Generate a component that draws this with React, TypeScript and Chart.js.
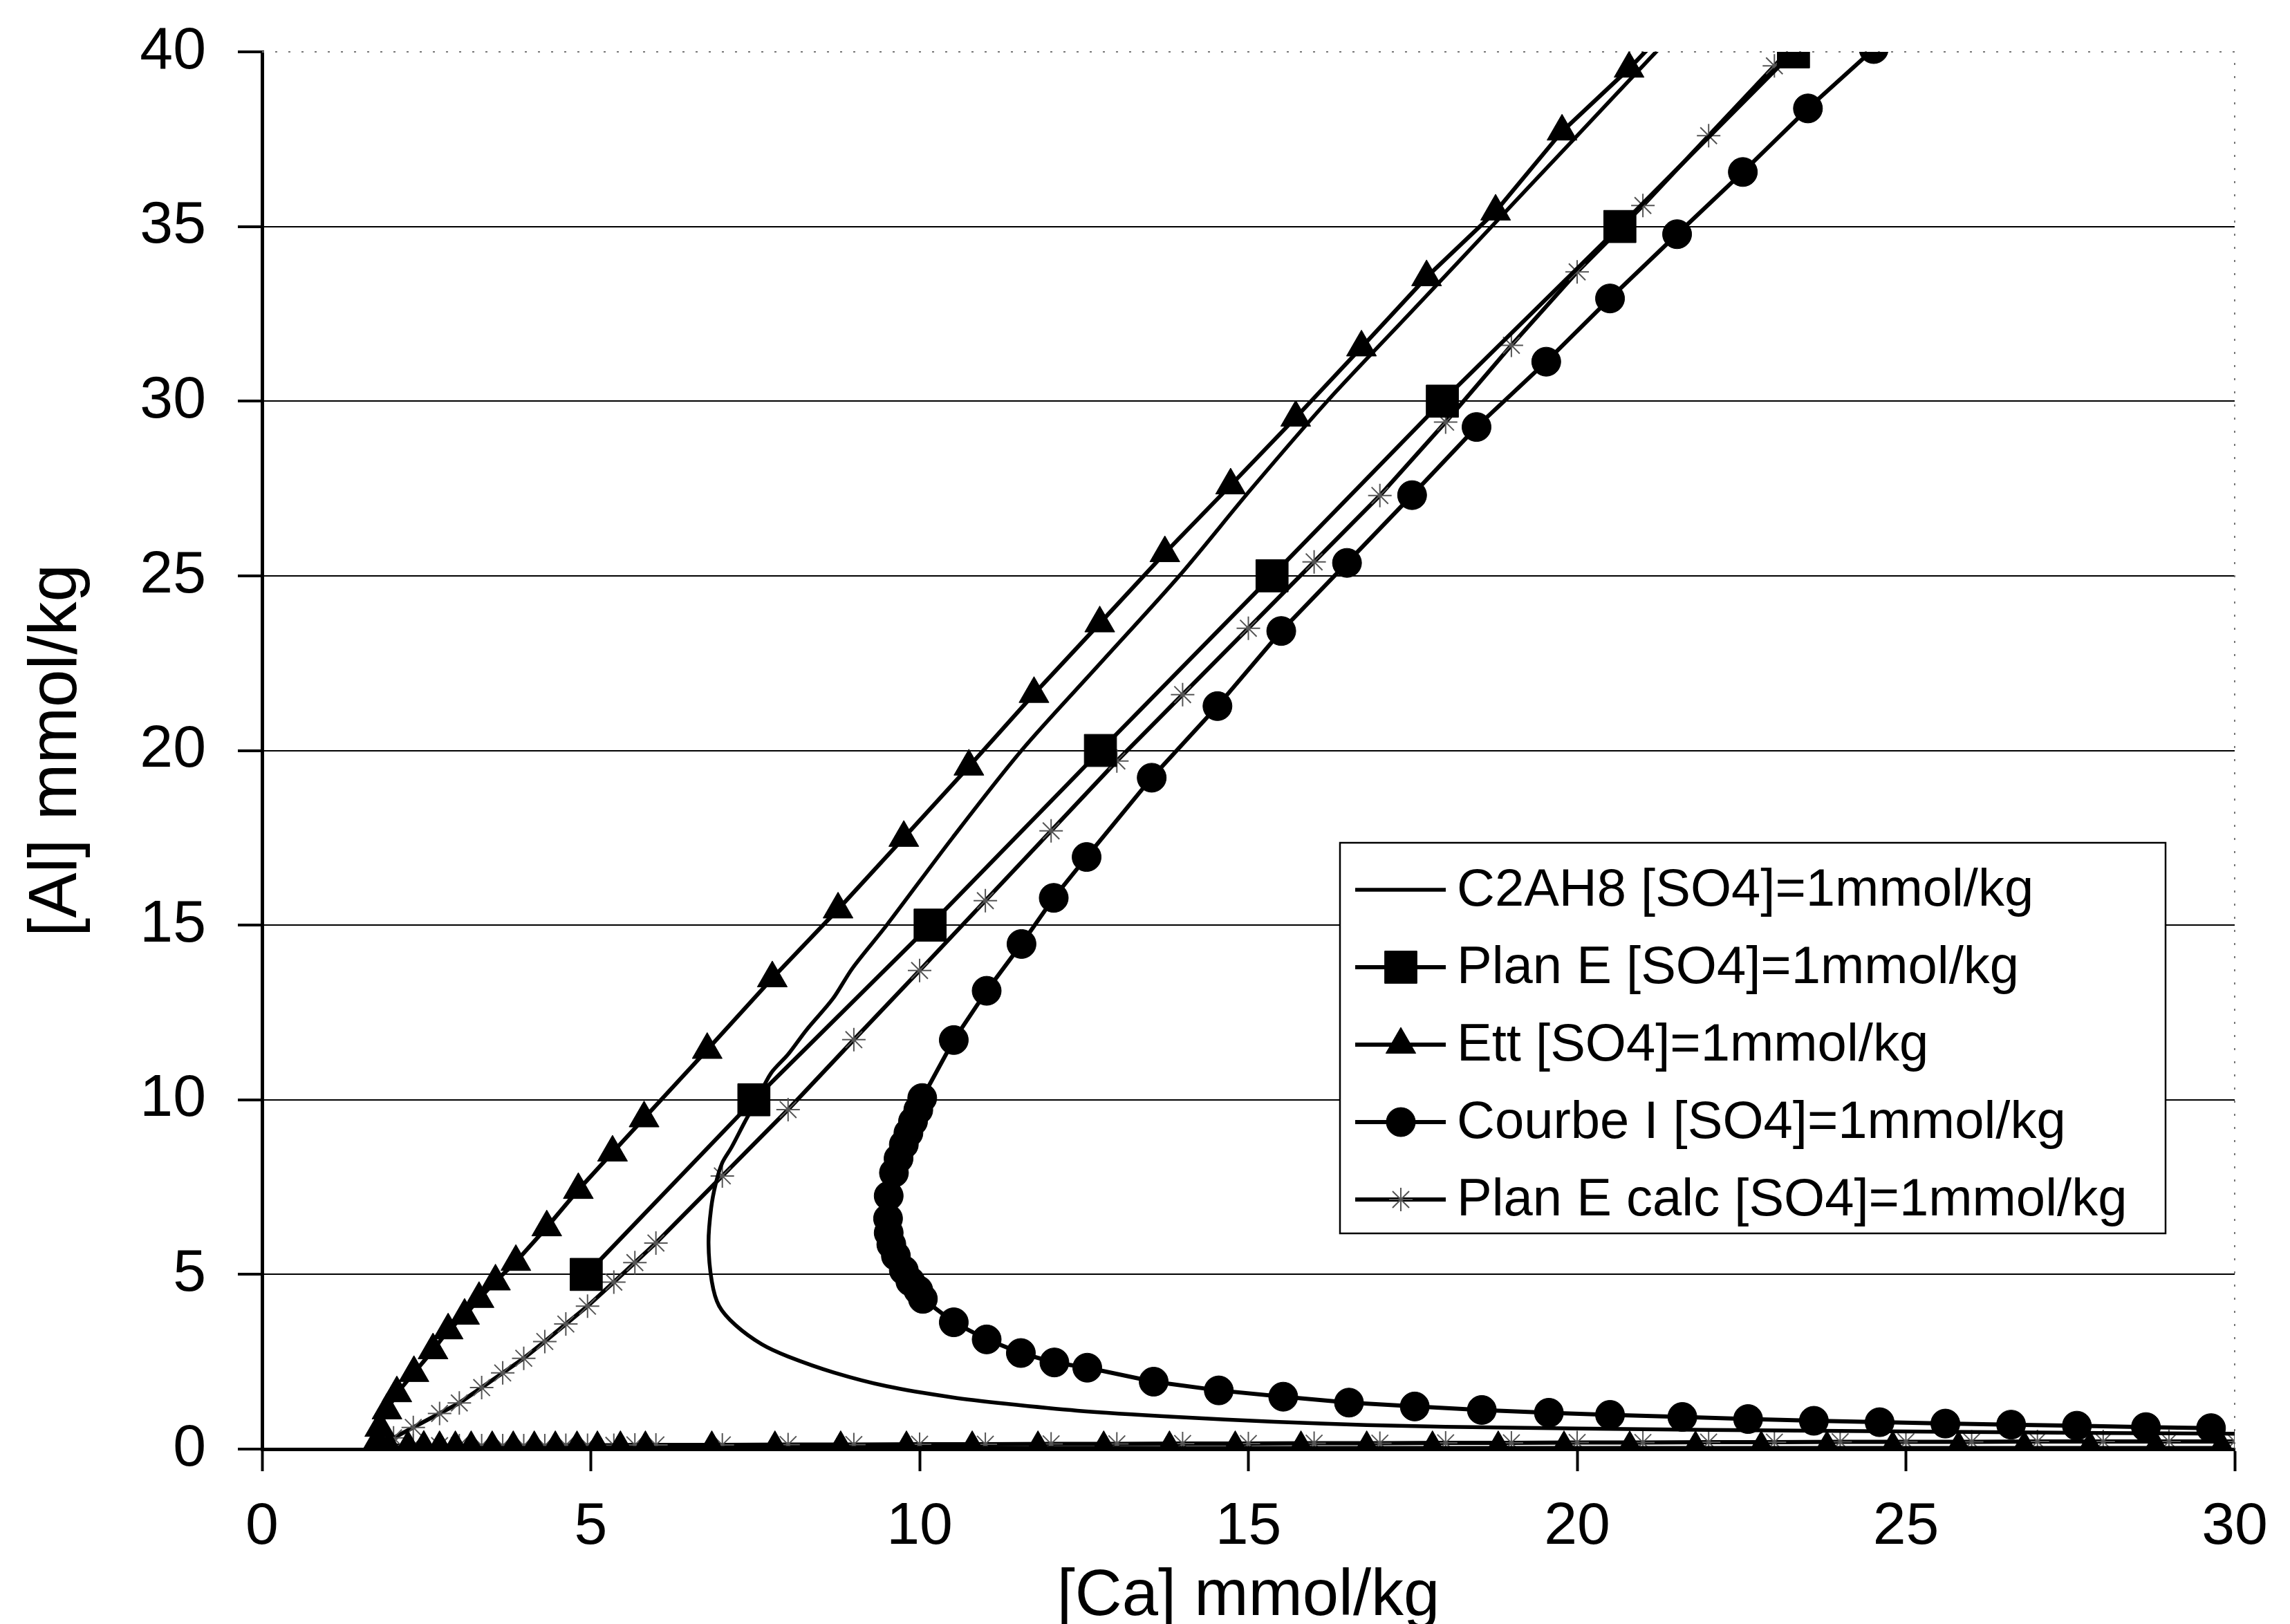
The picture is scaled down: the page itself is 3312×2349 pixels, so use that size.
import React, { useEffect, useRef } from "react";
import { Chart, registerables } from "chart.js";

Chart.register(...registerables);

const FONT = "'Liberation Sans', Arial, Helvetica, sans-serif";

const X_MIN = 0;
const X_MAX = 30;
const X_STEP = 5;
const Y_MIN = 0;
const Y_MAX = 40;
const Y_STEP = 5;

const X_TITLE = "[Ca] mmol/kg";
const Y_TITLE = "[Al] mmol/kg";

const seriesNames = [
  "C2AH8 [SO4]=1mmol/kg",
  "Plan E [SO4]=1mmol/kg",
  "Ett [SO4]=1mmol/kg",
  "Courbe I [SO4]=1mmol/kg",
  "Plan E calc [SO4]=1mmol/kg",
];

// C2AH8: from the right-hand end, round the nose, up to the top
const c2ah8X = [30, 28, 26, 24, 22, 20, 18, 16.8, 15.4, 13.9, 12.4, 11.3, 10.5, 9.5, 8.7, 8.0, 7.6, 7.2, 6.95, 6.84, 6.79, 6.83, 6.9, 7.0, 7.14, 7.34, 7.5, 7.74, 8.0, 8.28, 8.68, 8.98, 9.5, 10.5, 11.55, 12.75, 13.95, 15.05, 16.2, 17.45, 18.7, 19.95, 21.2, 21.7];
const c2ah8Y = [0.44, 0.46, 0.49, 0.52, 0.55, 0.59, 0.64, 0.69, 0.78, 0.92, 1.1, 1.3, 1.48, 1.8, 2.19, 2.65, 3.0, 3.55, 4.1, 4.8, 5.9, 6.9, 7.6, 8.2, 8.64, 9.36, 9.9, 10.76, 11.3, 12.0, 12.89, 13.77, 15, 17.5, 20, 22.5, 25, 27.5, 30, 32.5, 35, 37.5, 40, 41];

// Plan E
const planEX = [4.93, 7.48, 10.16, 12.75, 15.36, 17.95, 20.65, 23.29, 25.9];
const planEY = [5, 10, 15, 20, 25, 30, 35, 40, 45];

// Ett: lower branch (along the Ca axis) and upper branch
const ettLowX = [1.81, 1.93, 2.22, 2.46, 2.7, 2.94, 3.18, 3.5, 3.82, 4.14, 4.46, 4.79, 5.1, 5.45, 5.83, 6.84, 7.8, 8.8, 9.8, 10.8, 11.8, 12.8, 13.8, 14.8, 15.8, 16.8, 17.8, 18.8, 19.8, 20.8, 21.8, 22.8, 23.8, 24.8, 25.8, 26.8, 27.8, 28.8, 29.8];
const ettLowY = [0.05, 0.04, 0.04, 0.04, 0.03, 0.03, 0.03, 0.03, 0.03, 0.03, 0.03, 0.03, 0.03, 0.03, 0.03, 0.03, 0.03, 0.03, 0.03, 0.03, 0.03, 0.03, 0.03, 0.03, 0.03, 0.03, 0.03, 0.03, 0.03, 0.03, 0.03, 0.03, 0.03, 0.03, 0.03, 0.03, 0.03, 0.03, 0.03];
const ettUpX = [1.75, 1.79, 1.9, 2.05, 2.31, 2.6, 2.83, 3.08, 3.3, 3.55, 3.86, 4.33, 4.81, 5.33, 5.81, 6.77, 7.76, 8.76, 9.76, 10.75, 11.74, 12.74, 13.73, 14.73, 15.72, 16.72, 17.71, 18.76, 19.77, 20.79, 21.8];
const ettUpY = [0.2, 0.61, 1.11, 1.6, 2.18, 2.83, 3.4, 3.82, 4.3, 4.8, 5.36, 6.35, 7.42, 8.49, 9.47, 11.43, 13.48, 15.45, 17.5, 19.54, 21.62, 23.64, 25.65, 27.59, 29.53, 31.54, 33.55, 35.43, 37.72, 39.52, 41.5];

// Courbe I: from the right-hand end, round the nose, up to the top
const courbeX = [29.64, 28.65, 27.6, 26.6, 25.6, 24.6, 23.6, 22.6, 21.6, 20.5, 19.57, 18.55, 17.53, 16.53, 15.53, 14.55, 13.56, 12.55, 12.05, 11.54, 11.02, 10.52, 10.05, 9.98, 9.86, 9.76, 9.64, 9.57, 9.53, 9.52, 9.53, 9.61, 9.68, 9.76, 9.83, 9.9, 9.98, 10.04, 10.52, 11.02, 11.55, 12.04, 12.54, 13.53, 14.53, 15.5, 16.5, 17.49, 18.47, 19.53, 20.5, 21.52, 22.52, 23.51, 24.51, 25.5];
const courbeY = [0.6, 0.63, 0.67, 0.7, 0.73, 0.77, 0.81, 0.86, 0.92, 0.98, 1.04, 1.12, 1.22, 1.33, 1.5, 1.68, 1.93, 2.33, 2.48, 2.75, 3.14, 3.63, 4.3, 4.55, 4.8, 5.12, 5.53, 5.86, 6.19, 6.6, 7.25, 7.91, 8.32, 8.72, 9.05, 9.38, 9.71, 10.05, 11.71, 13.12, 14.46, 15.78, 16.95, 19.22, 21.27, 23.42, 25.37, 27.31, 29.26, 31.13, 32.94, 34.78, 36.56, 38.38, 40.08, 41.9];

// Plan E calc: lower branch and upper branch
const calcLowX = [1.95, 2.3, 2.7, 3.0, 3.34, 3.66, 3.98, 4.3, 4.62, 4.95, 5.35, 5.67, 5.99, 7, 8, 9, 10, 11, 12, 13, 14, 15, 16, 17, 18, 19, 20, 21, 22, 23, 24, 25, 26, 27, 28, 29, 30];
const calcLowY = [0.1, 0.1, 0.1, 0.1, 0.1, 0.1, 0.1, 0.1, 0.11, 0.11, 0.11, 0.12, 0.12, 0.12, 0.13, 0.13, 0.14, 0.14, 0.15, 0.15, 0.16, 0.16, 0.17, 0.17, 0.18, 0.18, 0.19, 0.19, 0.2, 0.2, 0.21, 0.21, 0.21, 0.22, 0.22, 0.22, 0.22];
const calcUpX = [2.0, 2.3, 2.7, 3.0, 3.34, 3.66, 3.98, 4.3, 4.62, 4.95, 5.35, 5.67, 5.99, 7, 8, 9, 10, 11, 12, 13, 14, 15, 16, 17, 18, 19, 20, 21, 22, 23, 24];
const calcUpY = [0.32, 0.62, 1.02, 1.32, 1.76, 2.18, 2.6, 3.08, 3.58, 4.09, 4.78, 5.34, 5.9, 7.82, 9.72, 11.72, 13.7, 15.7, 17.7, 19.7, 21.6, 23.5, 25.4, 27.3, 29.4, 31.6, 33.7, 35.6, 37.6, 39.6, 41.6];

type P = { x: number; y: number };
const pts = (xs: number[], ys: number[]): P[] => xs.map((x, i) => ({ x, y: ys[i] }));

function drawMarker(ctx: CanvasRenderingContext2D, style: string, x: number, y: number, r: number) {
  ctx.beginPath();
  if (style === "rect") {
    const s = Math.SQRT1_2 * r;
    ctx.rect(x - s, y - s, 2 * s, 2 * s);
    ctx.fill();
    ctx.stroke();
  } else if (style === "triangle") {
    let a = 0;
    ctx.moveTo(x + Math.sin(a) * r, y - Math.cos(a) * r);
    a += (2 * Math.PI) / 3;
    ctx.lineTo(x + Math.sin(a) * r, y - Math.cos(a) * r);
    a += (2 * Math.PI) / 3;
    ctx.lineTo(x + Math.sin(a) * r, y - Math.cos(a) * r);
    ctx.closePath();
    ctx.fill();
    ctx.stroke();
  } else if (style === "circle") {
    ctx.arc(x, y, r, 0, Math.PI * 2);
    ctx.fill();
    ctx.stroke();
  } else if (style === "star") {
    ctx.moveTo(x, y - r);
    ctx.lineTo(x, y + r);
    ctx.moveTo(x - r, y);
    ctx.lineTo(x + r, y);
    const d = Math.SQRT1_2 * r;
    ctx.moveTo(x - d, y - d);
    ctx.lineTo(x + d, y + d);
    ctx.moveTo(x - d, y + d);
    ctx.lineTo(x + d, y - d);
    ctx.stroke();
  }
}

const framePlugin = {
  id: "dottedFrame",
  beforeDatasetsDraw(chart: any) {
    const { ctx, chartArea } = chart;
    ctx.save();
    ctx.strokeStyle = "#777";
    ctx.lineWidth = 2;
    ctx.setLineDash([3, 16]);
    ctx.beginPath();
    ctx.moveTo(chartArea.left, chartArea.top);
    ctx.lineTo(chartArea.right, chartArea.top);
    ctx.lineTo(chartArea.right, chartArea.bottom);
    ctx.stroke();
    ctx.restore();
  },
};

const legendPlugin = {
  id: "boxLegend",
  afterDraw(chart: any) {
    const { ctx } = chart;
    const bx = 1938;
    const by = 1219;
    const bw = 1194;
    const bh = 565;
    ctx.save();
    ctx.setLineDash([]);
    ctx.fillStyle = "#fff";
    ctx.fillRect(bx, by, bw, bh);
    ctx.lineWidth = 2.5;
    ctx.strokeStyle = "#000";
    ctx.strokeRect(bx, by, bw, bh);
    chart.data.datasets.forEach((ds: any, i: number) => {
      const cy = by + 68 + i * 112;
      ctx.strokeStyle = ds.borderColor;
      ctx.lineWidth = ds.borderWidth;
      ctx.beginPath();
      ctx.moveTo(1960, cy);
      ctx.lineTo(2091, cy);
      ctx.stroke();
      if (ds.pointRadius > 0) {
        ctx.fillStyle = ds.pointBackgroundColor;
        ctx.strokeStyle = ds.pointBorderColor;
        ctx.lineWidth = ds.pointBorderWidth;
        drawMarker(ctx, ds.pointStyle, 2026, cy, ds.pointRadius);
      }
      ctx.fillStyle = "#000";
      ctx.font = `76px ${FONT}`;
      ctx.textAlign = "left";
      ctx.textBaseline = "middle";
      ctx.fillText(ds.label, 2107, cy + 2);
    });
    ctx.restore();
  },
};

export default function App() {
  const ref = useRef<HTMLCanvasElement | null>(null);

  useEffect(() => {
    if (!ref.current) return;
    const line = {
      showLine: true,
      borderColor: "#000",
      borderWidth: 6,
      pointBackgroundColor: "#000",
      pointBorderColor: "#000",
      pointBorderWidth: 1,
      tension: 0,
    };
    const chart = new Chart(ref.current, {
      type: "scatter",
      data: {
        datasets: [
          {
            ...line,
            label: seriesNames[0],
            data: pts(c2ah8X, c2ah8Y),
            pointRadius: 0,
            pointStyle: "circle",
            tension: 0.3,
            borderWidth: 5.5,
          },
          {
            ...line,
            label: seriesNames[1],
            data: pts(planEX, planEY),
            pointStyle: "rect",
            pointRadius: 33,
          },
          {
            ...line,
            label: seriesNames[2],
            data: [...pts(ettLowX, ettLowY).reverse(), ...pts(ettUpX, ettUpY)],
            pointStyle: "triangle",
            pointRadius: 25,
          },
          {
            ...line,
            label: seriesNames[3],
            data: pts(courbeX, courbeY),
            pointStyle: "circle",
            pointRadius: 21,
          },
          {
            ...line,
            label: seriesNames[4],
            data: [...pts(calcLowX, calcLowY).reverse(), ...pts(calcUpX, calcUpY)],
            pointStyle: "star",
            pointRadius: 17,
            pointBorderColor: "#555",
            pointBorderWidth: 2,
          },
        ],
      },
      options: {
        animation: false,
        responsive: false,
        maintainAspectRatio: false,
        devicePixelRatio: 1,
        layout: { padding: { top: 75, right: 80, left: 0, bottom: 0 } },
        plugins: {
          legend: { display: false },
          tooltip: { enabled: false },
        },
        scales: {
          x: {
            type: "linear",
            min: X_MIN,
            max: X_MAX,
            ticks: {
              stepSize: X_STEP,
              color: "#000",
              font: { size: 86, family: FONT },
              padding: 30,
              maxRotation: 0,
            },
            grid: {
              drawOnChartArea: false,
              drawTicks: true,
              tickLength: 32,
              tickWidth: 4,
              tickColor: "#000",
            },
            border: { display: true, color: "#000", width: 5 },
            title: {
              display: true,
              text: X_TITLE,
              color: "#000",
              font: { size: 94, family: FONT },
              padding: { top: 0, bottom: -17 },
            },
            afterFit: (s: any) => {
              s.height = 253;
              s.paddingLeft = 0;
              s.paddingRight = 0;
            },
          },
          y: {
            type: "linear",
            min: Y_MIN,
            max: Y_MAX,
            ticks: {
              stepSize: Y_STEP,
              color: "#000",
              font: { size: 86, family: FONT },
              padding: 46,
            },
            grid: {
              color: (c: any) =>
                c.tick && (c.tick.value === Y_MIN || c.tick.value === Y_MAX) ? "rgba(0,0,0,0)" : "#000",
              lineWidth: 2,
              tickLength: 35,
              tickWidth: 4,
              tickColor: "#000",
            },
            border: { display: true, color: "#000", width: 5 },
            title: {
              display: true,
              text: Y_TITLE,
              color: "#000",
              font: { size: 98, family: FONT },
              padding: { top: 24, bottom: 0 },
            },
            afterFit: (s: any) => {
              s.width = 379;
              s.paddingTop = 0;
              s.paddingBottom = 0;
            },
          },
        },
      },
      plugins: [framePlugin, legendPlugin],
    } as any);
    return () => chart.destroy();
  }, []);

  return (
    <div style={{ position: "absolute", left: 0, top: 0, width: 3312, height: 2349, background: "#fff" }}>
      <canvas ref={ref} width={3312} height={2349} style={{ display: "block", width: 3312, height: 2349 }} />
    </div>
  );
}
